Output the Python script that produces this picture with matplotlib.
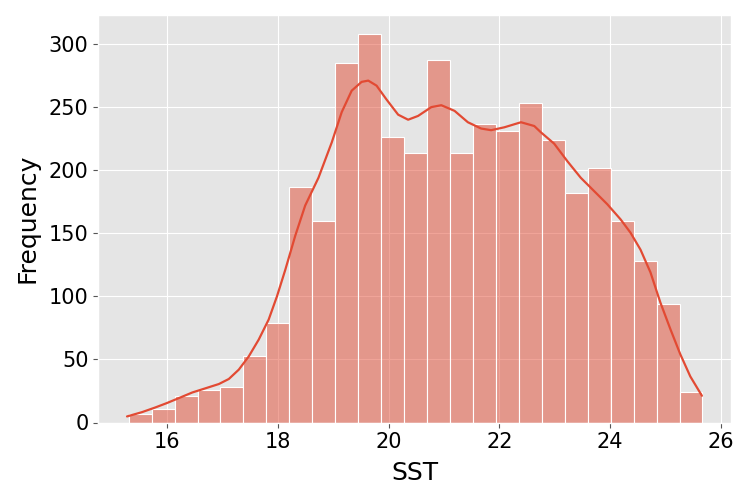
import numpy as np
import matplotlib
matplotlib.use('Agg')
import matplotlib.pyplot as plt

plt.style.use('ggplot')

# Histogram
sst_min = 15.30
sst_max = 25.67
counts = [7, 11, 21, 26, 28, 53, 79, 187, 160, 285, 308, 226, 214,
          287, 214, 237, 231, 253, 224, 182, 202, 160, 128, 94, 24]

# KDE line (scaled to counts)
kde_x = [15.27, 15.54, 15.78, 15.99, 16.21, 16.45, 16.68, 16.93, 17.11,
         17.29, 17.47, 17.65, 17.83, 17.98, 18.13, 18.31, 18.49, 18.73,
         18.97, 19.15, 19.33, 19.51, 19.63, 19.78, 19.96, 20.17, 20.35,
         20.53, 20.77, 20.95, 21.19, 21.43, 21.67, 21.85, 22.09, 22.39,
         22.63, 22.75, 22.99, 23.23, 23.47, 23.71, 23.95, 24.19, 24.37,
         24.55, 24.73, 24.91, 25.09, 25.27, 25.45, 25.66]
kde_y = [4.8, 8.2, 11.9, 15.4, 19.4, 23.8, 27.0, 30.5, 34.5,
         41.9, 52.4, 65.7, 81.6, 100, 121, 148, 172, 194,
         222, 246, 263, 270, 271, 267, 256, 244, 240,
         243, 250, 251.5, 247, 238, 233, 231.7, 234, 238,
         235, 230, 221, 207, 194, 183.5, 173, 161, 150.4,
         137, 119, 95, 74, 54, 36.5, 21.2]

edges = np.linspace(sst_min, sst_max, len(counts) + 1)
color = '#E24A33'

fig, ax = plt.subplots(figsize=(7.5, 5), dpi=100)
ax.bar(edges[:-1], counts, width=np.diff(edges), align='edge',
       facecolor=(0.886, 0.29, 0.2, 0.5), edgecolor='white', linewidth=0.8)
ax.plot(kde_x, kde_y, color=color, linewidth=1.6,
        solid_joinstyle='round', solid_capstyle='round')

ax.set_xlabel('SST', fontsize=18, color='black', labelpad=6)
ax.set_ylabel('Frequency', fontsize=18, color='black', labelpad=7)
ax.tick_params(labelsize=15, labelcolor='black')

fig.subplots_adjust(left=0.131, right=0.975, top=0.971, bottom=0.155)
fig.savefig('out.png')
